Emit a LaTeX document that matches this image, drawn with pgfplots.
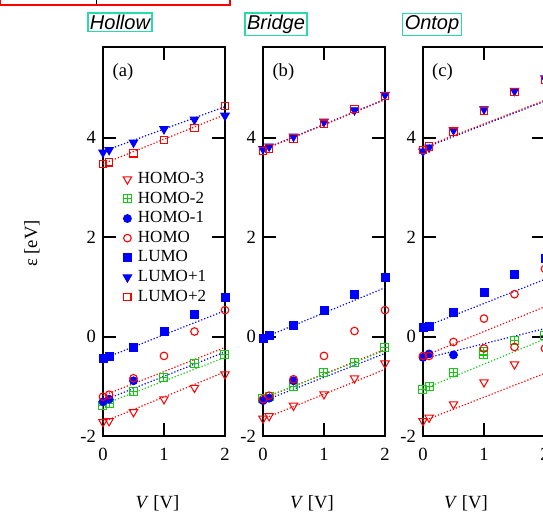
\documentclass[border=0pt]{standalone}
\usepackage{fontspec}
\setmainfont{Liberation Serif}
\newfontfamily\helv{Liberation Sans}
\usepackage{pgfplots}
\pgfplotsset{compat=1.18}
\definecolor{myblue}{RGB}{0,0,255}
\definecolor{myred}{RGB}{255,0,0}
\definecolor{mygreen}{RGB}{20,200,20}
\definecolor{boxgreen}{RGB}{40,220,170}
\pgfdeclareplotmark{boxplus}{%
  \pgfpathrectangle{\pgfqpoint{-\pgfplotmarksize}{-\pgfplotmarksize}}{\pgfqpoint{2\pgfplotmarksize}{2\pgfplotmarksize}}%
  \pgfpathmoveto{\pgfqpoint{-\pgfplotmarksize}{0pt}}\pgfpathlineto{\pgfqpoint{\pgfplotmarksize}{0pt}}%
  \pgfpathmoveto{\pgfqpoint{0pt}{-\pgfplotmarksize}}\pgfpathlineto{\pgfqpoint{0pt}{\pgfplotmarksize}}%
  \pgfusepathqstroke}
\pgfplotsset{
  panel/.style={scale only axis, width=61pt, height=194.5pt, anchor=south west,
    xmin=0, xmax=2, ymin=-2, ymax=5.82,
    xtick={0,1,2}, xticklabels={0,1,2},
    ytick={-2,0,2,4}, yticklabels={-2,0,2,4},
    tick align=inside, major tick length=6.3pt,
    axis line style={line width=1pt},
    major tick style={line width=1pt, black},
    tick label style={font=\fontsize{9.3}{11}\selectfont},
    xticklabel style={yshift=-2.7pt},
    clip=false},
  s3/.style={only marks, mark=triangle, mark size=2.4pt, mark options={rotate=180, draw=myred, line width=0.5pt}},
  s2/.style={only marks, mark=boxplus, mark size=2pt, mark options={draw=mygreen, line width=0.5pt}},
  s1/.style={only marks, mark=*, mark size=2pt, mark options={draw=myblue, fill=myblue}},
  s0/.style={only marks, mark=o, mark size=1.9pt, mark options={draw=myred, line width=0.55pt}},
  l0/.style={only marks, mark=square*, mark size=2pt, mark options={draw=myblue, fill=myblue}},
  l1/.style={only marks, mark=triangle*, mark size=2.5pt, mark options={rotate=180, draw=myblue, fill=myblue}},
  l2/.style={only marks, mark=square, mark size=1.8pt, mark options={draw=myred, line width=0.55pt}},
  fitb/.style={myblue, densely dotted, line width=0.6pt, forget plot},
  fitr/.style={myred, densely dotted, line width=0.6pt, forget plot},
  fitg/.style={mygreen, densely dotted, line width=0.6pt, forget plot},
}
\begin{document}
\begin{tikzpicture}[font=\fontsize{9.3}{11}\selectfont]
% ---------------- (a) Hollow
\begin{axis}[panel, at={(51.5pt,38.5pt)},
  legend image code/.code={\path[draw=none,fill=none] (0cm,-0.1cm) -- (0.3cm,0.1cm); \draw[#1] plot coordinates {(0.15cm,0cm)};},
  legend style={draw=none, fill=none, inner sep=0pt, at={(axis description cs:0.127,0.686)}, anchor=north west,
    font=\fontsize{8.5}{9}\selectfont, row sep=0pt,
    nodes={inner sep=1pt, text height=6pt, text depth=1.8pt}},
  legend cell align=left]
\addlegendimage{s3}\addlegendentry{HOMO-3}
\addlegendimage{s2}\addlegendentry{HOMO-2}
\addlegendimage{s1}\addlegendentry{HOMO-1}
\addlegendimage{s0}\addlegendentry{HOMO}
\addlegendimage{l0}\addlegendentry{LUMO}
\addlegendimage{l1}\addlegendentry{LUMO+1}
\addlegendimage{l2}\addlegendentry{LUMO+2}
\addplot[fitb] coordinates {(0,3.72) (2,4.62)};
\addplot[fitr] coordinates {(0,3.47) (2,4.46)};
\addplot[fitb] coordinates {(0,-0.45) (2,0.52)};
\addplot[fitr] coordinates {(0,-1.19) (2,-0.22)};
\addplot[fitb] coordinates {(0,-1.29) (2,-0.31)};
\addplot[fitg] coordinates {(0,-1.37) (2,-0.42)};
\addplot[fitr] coordinates {(0,-1.72) (2,-0.71)};
\addplot[s3, forget plot] coordinates {(0,-1.72) (0.1,-1.70) (0.5,-1.52) (1,-1.26) (1.5,-1.03) (2,-0.76)};
\addplot[s2, forget plot] coordinates {(0,-1.39) (0.1,-1.35) (0.5,-1.11) (1,-0.83) (1.5,-0.55) (2,-0.37)};
\addplot[s1, forget plot] coordinates {(0,-1.31) (0.1,-1.26) (0.5,-0.89)};
\addplot[s0, forget plot] coordinates {(0,-1.21) (0.1,-1.17) (0.5,-0.84) (1,-0.39) (1.5,0.10) (2,0.53)};
\addplot[l0, forget plot] coordinates {(0,-0.45) (0.1,-0.41) (0.5,-0.21) (1,0.10) (1.5,0.44) (2,0.78)};
\addplot[l1, forget plot] coordinates {(0,3.70) (0.1,3.75) (0.5,3.90) (1,4.17) (1.5,4.36) (2,4.44)};
\addplot[l2, forget plot] coordinates {(0,3.47) (0.1,3.50) (0.5,3.68) (1,3.95) (1.5,4.19) (2,4.64)};
\end{axis}
% ---------------- (b) Bridge
\begin{axis}[panel, at={(131.5pt,38.5pt)}]
\addplot[fitb] coordinates {(0,3.76) (2,4.77)};
\addplot[fitr] coordinates {(0,3.75) (2,4.76)};
\addplot[fitb] coordinates {(0,-0.03) (2,0.98)};
\addplot[fitr] coordinates {(0,-1.25) (2,-0.26)};
\addplot[fitg] coordinates {(0,-1.24) (2,-0.28)};
\addplot[fitb] coordinates {(0,-1.30) (2,-0.34)};
\addplot[fitr] coordinates {(0,-1.66) (2,-0.66)};
\addplot[s3] coordinates {(0,-1.65) (0.1,-1.60) (0.5,-1.39) (1,-1.16) (1.5,-0.84) (2,-0.54)};
\addplot[s2] coordinates {(0,-1.25) (0.1,-1.21) (0.5,-1.01) (1,-0.72) (1.5,-0.52) (2,-0.22)};
\addplot[s1] coordinates {(0,-1.29) (0.1,-1.24) (0.5,-0.89)};
\addplot[s0] coordinates {(0,-1.26) (0.1,-1.19) (0.5,-0.86) (1,-0.39) (1.5,0.11) (2,0.53)};
\addplot[l0] coordinates {(0,-0.03) (0.1,0.03) (0.5,0.23) (1,0.53) (1.5,0.85) (2,1.18)};
\addplot[l1] coordinates {(0,3.77) (0.1,3.82) (0.5,4.02) (1,4.32) (1.5,4.55) (2,4.86)};
\addplot[l2] coordinates {(0,3.73) (0.1,3.78) (0.5,3.98) (1,4.28) (1.5,4.58) (2,4.83)};
\end{axis}
% ---------------- (c) Ontop
\begin{axis}[panel, at={(211.5pt,38.5pt)}]
\addplot[fitb] coordinates {(0,3.78) (2,4.73)};
\addplot[fitr] coordinates {(0,3.80) (2,4.75)};
\addplot[fitb] coordinates {(0,0.18) (2,1.15)};
\addplot[fitr] coordinates {(0,-0.40) (2,0.60)};
\addplot[fitb] coordinates {(0,-0.45) (2,0.16)};
\addplot[fitg] coordinates {(0,-1.06) (2,-0.05)};
\addplot[fitr] coordinates {(0,-1.70) (2,-0.74)};
\addplot[s3] coordinates {(0,-1.70) (0.1,-1.63) (0.5,-1.36) (1,-0.92) (1.5,-0.56)};
\addplot[s2] coordinates {(0,-1.06) (0.1,-1.01) (0.5,-0.72) (1,-0.36) (1,-0.30) (1.5,-0.09) (2,0.03)};
\addplot[s1] coordinates {(0,-0.42) (0.1,-0.35) (0.5,-0.37)};
\addplot[s0] coordinates {(0,-0.39) (0.1,-0.39) (0.5,-0.11) (1,0.36) (1.5,0.85) (2,1.36)};
\addplot[s0] coordinates {(1,-0.24) (1.5,-0.21) (2,-0.24)};
\addplot[l0] coordinates {(0,0.18) (0.1,0.20) (0.5,0.48) (1,0.89) (1.5,1.25) (2,1.57)};
\addplot[l1] coordinates {(0,3.72) (0.1,3.80) (0.5,4.15) (1,4.57) (1.5,4.94) (2,5.19)};
\addplot[l2] coordinates {(0,3.75) (0.1,3.82) (0.5,4.12) (1,4.54) (1.5,4.91) (2,5.16)};
\end{axis}
% ---------------- texts
\node[rotate=90, anchor=base] at (18.6pt,134.75pt) {ε [eV]};
\foreach \xx in {78.75,156,233} {\node[anchor=base] at (\xx pt,2.2pt) {\textit{V} [V]};}
\node at (61.5pt,220.25pt) {(a)};
\node at (141.7pt,220.25pt) {(b)};
\node at (221.2pt,220.25pt) {(c)};
\foreach \xx/\tt in {60/Hollow,138/Bridge,216/Ontop} {
  \node[draw=boxgreen, line width=0.7pt, inner sep=1pt, anchor=base, font=\helv\itshape\fontsize{10}{12}\selectfont] at (\xx pt,241.75pt) {\tt};}
\draw[red, line width=0.65pt] (0.4pt,258pt) -- (0.4pt,254pt) -- (115pt,254pt) -- (115pt,258pt);
\draw[black, line width=0.65pt] (48.4pt,258pt) -- (48.4pt,254.6pt);
\pgfresetboundingbox
\path[use as bounding box] (0,0) rectangle (271.5pt,256.5pt);
\end{tikzpicture}
\end{document}
